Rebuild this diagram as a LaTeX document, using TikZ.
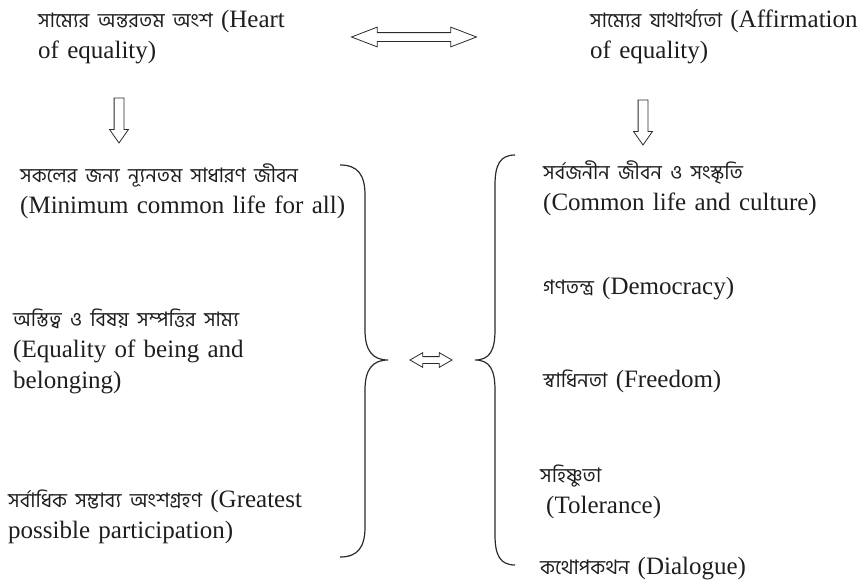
\documentclass[tikz,border=0pt]{standalone}
\usepackage{fontspec}
\setmainfont{Liberation Serif}
\newfontfamily\banglafont[Script=Bengali]{Hind Siliguri}
\usepackage{xcolor}
\definecolor{inktext}   {HTML}{1E1E1E}
\definecolor{inkline}   {HTML}{2B2B2B}
\usetikzlibrary{shapes.arrows, positioning}
\newcommand{\bn}[1]{{\banglafont\fontsize{20}{31}\selectfont #1}}

\tikzset{
    item/.style={anchor=base west, inner sep=0pt, align=left, text width=360pt,
        font=\fontsize{25}{31}\selectfont, text=inktext},
    hollowdown/.style={draw=inkline, line width=0.8pt, single arrow, rotate=-90,
        minimum height=45pt, inner xsep=0pt, inner ysep=4.5pt,
        single arrow head extend=4.5pt, single arrow tip angle=70},
    hollowboth/.style={draw=inkline, line width=0.8pt, double arrow, inner xsep=0pt},
    bracket/.style={draw=inkline, line width=1.2pt}
}

\begin{document}
\begin{tikzpicture}[x=1pt, y=-1pt]
    \useasboundingbox (0,0) rectangle (865,584);
    % top row: the two sides of equality
    \node[item] (heart)  at (38,27)  {\bn{সাম্যের অন্তরতম অংশ} (Heart\\of equality)};
    \node[item] (affirm) at (590,27) {\bn{সাম্যের যাথার্থ্যতা} (Affirmation\\of equality)};
    \node[hollowboth, minimum height=125pt, inner ysep=4pt,
        double arrow head extend=5.5pt, double arrow tip angle=42] (link) at (414,37) {};
    \node[hollowdown] (heartdown)  at (119,117) {};
    \node[hollowdown] (affirmdown) at (643,119) {};

    % left column
    \node[item] (minimum)  at (20,182) {\bn{সকলের জন্য ন্যূনতম সাধারণ জীবন}\\(Minimum common life for all)};
    \node[item] (equality) at (13,326) {\bn{অস্তিত্ব ও বিষয় সম্পত্তির সাম্য}\\(Equality of being and\\belonging)};
    \node[item] (greatest) at (8,507)  {\bn{সর্বাধিক সম্ভাব্য অংশগ্রহণ} (Greatest\\possible participation)};

    % right column
    \node[item] (common)    at (543,179) {\bn{সর্বজনীন জীবন ও সংস্কৃতি}\\(Common life and culture)};
    \node[item] (democracy) at (543,294) {\bn{গণতন্ত্র} (Democracy)};
    \node[item] (freedom)   at (543,387) {\bn{স্বাধিনতা} (Freedom)};
    \node[item] (tolerance) at (540,482) {\bn{সহিষ্ণুতা}\\\hspace*{6pt}(Tolerance)};
    \node[item] (dialogue)  at (540,574) {\bn{কথোপকথন} (Dialogue)};

    % the two braces and the link between them
    \draw[bracket] (340,165) .. controls (358,165) and (365,175) .. (365,195) -- (365,330)
        .. controls (365,350) and (372,360) .. (388,360)
        .. controls (372,360) and (365,370) .. (365,390) -- (365,527)
        .. controls (365,547) and (358,557) .. (340,557);
    \draw[bracket] (515,155) .. controls (500,155) and (495,165) .. (495,185) -- (495,330)
        .. controls (495,350) and (490,360) .. (475,360)
        .. controls (490,360) and (495,370) .. (495,390) -- (495,535)
        .. controls (495,555) and (500,565) .. (515,565);
    \node[hollowboth, minimum height=42pt, inner ysep=3pt,
        double arrow head extend=4pt, double arrow tip angle=60] (bridge) at (431,360) {};
\end{tikzpicture}
\end{document}
